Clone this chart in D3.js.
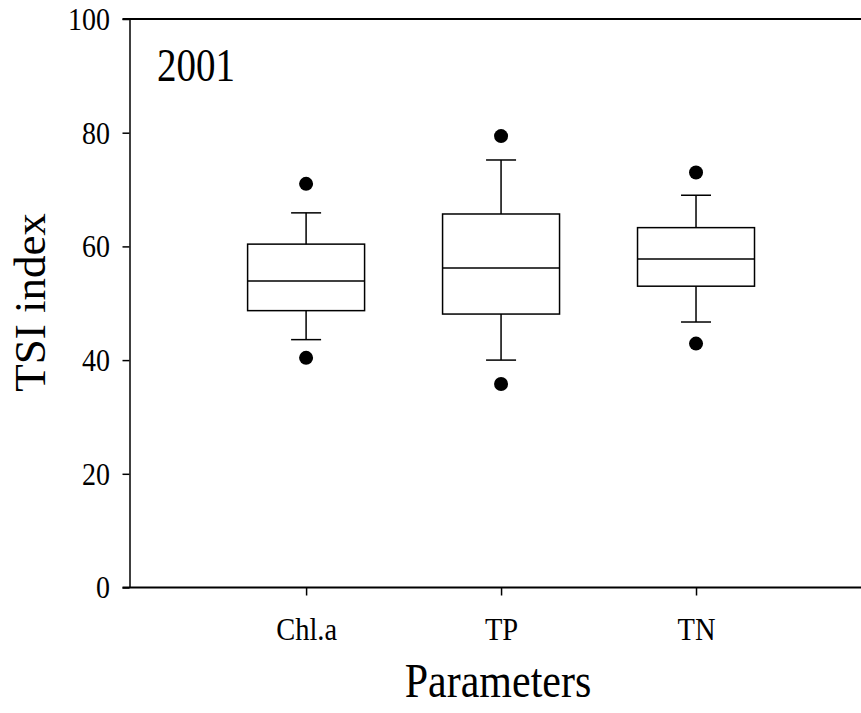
<!DOCTYPE html>
<html>
<head>
<meta charset="utf-8">
<script src="https://cdn.jsdelivr.net/npm/d3@7"></script>
<style>
  body { margin: 0; background: #fff; }
  svg { display: block; font-family: "Liberation Serif", "Times New Roman", serif; }
</style>
</head>
<body>
<svg id="chart" width="861" height="713"></svg>
<script>
// values
const categories = ["Chl.a", "TP", "TN"];
const q1 = [48.7, 48.1, 53.0];
const median = [53.9, 56.2, 57.8];
const q3 = [60.4, 65.7, 63.3];
const whiskerLow = [43.6, 40.0, 46.7];
const whiskerHigh = [65.9, 75.2, 69.0];
const outlierLow = [40.4, 35.8, 42.9];
const outlierHigh = [71.0, 79.4, 73.0];
const yTicks = [0, 20, 40, 60, 80, 100];

const svg = d3.select('#chart');
const plotLeft = 129.5, plotRight = 861, plotTop = 19, plotBottom = 587.5;

const y = d3.scaleLinear().domain([0, 100]).range([plotBottom, plotTop]);
const x = d3.scalePoint().domain(categories).range([plotLeft, plotRight]).padding(0.876).align(0.517);

const boxW = x.step() * 0.6;
const capW = 30;

// frame: top and bottom lines run to the right edge, no right axis
svg.append('line').attr('x1', plotLeft - 7).attr('x2', plotRight).attr('y1', plotTop).attr('y2', plotTop)
    .attr('stroke', '#000').attr('stroke-width', 2);
svg.append('line').attr('x1', plotLeft - 7).attr('x2', plotRight).attr('y1', plotBottom).attr('y2', plotBottom)
    .attr('stroke', '#000').attr('stroke-width', 2);

// y axis
const yAxis = svg.append('g')
    .attr('transform', `translate(${plotLeft},0)`)
    .call(d3.axisLeft(y).tickValues(yTicks).tickSize(7).tickSizeOuter(0));
yAxis.select('.domain').attr('stroke-width', 1.5);
yAxis.selectAll('.tick line').attr('stroke-width', 1.5);
yAxis.selectAll('.tick text')
    .attr('x', -19.5)
    .attr('dy', '0.34em')
    .attr('transform', 'scale(1,1.1)')
    .style('font-size', '28px')
    .style('font-family', '"Liberation Serif", serif')
    .attr('fill', '#000');

// x axis
const xAxis = svg.append('g')
    .attr('transform', `translate(0,${plotBottom})`)
    .call(d3.axisBottom(x).tickSize(8).tickSizeOuter(0));
xAxis.select('.domain').remove();
xAxis.selectAll('.tick line').attr('stroke-width', 1.5);
xAxis.selectAll('.tick text')
    .attr('y', 52.5 / 1.12)
    .attr('dy', 0)
    .attr('transform', 'scale(1,1.12)')
    .style('font-size', '28.5px')
    .style('font-family', '"Liberation Serif", serif')
    .attr('fill', '#000');

// boxes
const boxes = svg.append('g');
categories.forEach((c, i) => {
    const cx = x(c);
    const g = boxes.append('g');
    // whiskers
    g.append('line').attr('x1', cx).attr('x2', cx).attr('y1', y(q3[i])).attr('y2', y(whiskerHigh[i]))
        .attr('stroke', '#000').attr('stroke-width', 1.5);
    g.append('line').attr('x1', cx).attr('x2', cx).attr('y1', y(q1[i])).attr('y2', y(whiskerLow[i]))
        .attr('stroke', '#000').attr('stroke-width', 1.5);
    g.append('line').attr('x1', cx - capW / 2).attr('x2', cx + capW / 2)
        .attr('y1', y(whiskerHigh[i])).attr('y2', y(whiskerHigh[i]))
        .attr('stroke', '#000').attr('stroke-width', 1.5);
    g.append('line').attr('x1', cx - capW / 2).attr('x2', cx + capW / 2)
        .attr('y1', y(whiskerLow[i])).attr('y2', y(whiskerLow[i]))
        .attr('stroke', '#000').attr('stroke-width', 1.5);
    // box
    g.append('rect')
        .attr('x', cx - boxW / 2).attr('width', boxW)
        .attr('y', y(q3[i])).attr('height', y(q1[i]) - y(q3[i]))
        .attr('fill', 'none').attr('stroke', '#000').attr('stroke-width', 1.5);
    g.append('line').attr('x1', cx - boxW / 2).attr('x2', cx + boxW / 2)
        .attr('y1', y(median[i])).attr('y2', y(median[i]))
        .attr('stroke', '#000').attr('stroke-width', 1.5);
    // outliers
    [outlierLow[i], outlierHigh[i]].forEach(v => {
        g.append('circle').attr('cx', cx).attr('cy', y(v)).attr('r', 7).attr('fill', '#000');
    });
});

// texts
svg.append('text')
    .attr('x', 157).attr('y', 81 / 1.17)
    .attr('transform', 'scale(1,1.17)')
    .style('font-size', '39px')
    .text('2001');

svg.append('text')
    .attr('x', 498).attr('y', 697 / 1.18)
    .attr('transform', 'scale(1,1.18)')
    .attr('text-anchor', 'middle')
    .style('font-size', '42px')
    .text('Parameters');

svg.append('text')
    .attr('transform', 'translate(45,302.5) rotate(-90)')
    .attr('text-anchor', 'middle')
    .style('font-size', '45px')
    .text('TSI index');
</script>
</body>
</html>
